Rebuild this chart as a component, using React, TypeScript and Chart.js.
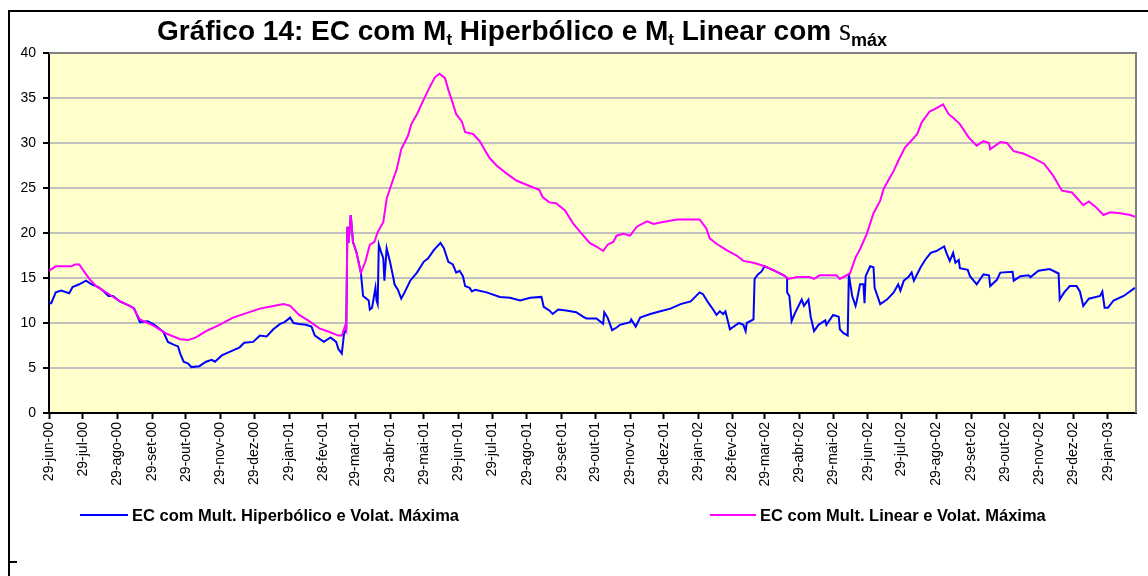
import React, { useEffect, useRef } from "react";
import { Chart, registerables } from "chart.js";

Chart.register(...registerables);

// ---- Data ----
const tickLabels = [
  "29-jun-00", "29-jul-00", "29-ago-00", "29-set-00", "29-out-00", "29-nov-00", "29-dez-00",
  "29-jan-01", "28-fev-01", "29-mar-01", "29-abr-01", "29-mai-01", "29-jun-01", "29-jul-01",
  "29-ago-01", "29-set-01", "29-out-01", "29-nov-01", "29-dez-01", "29-jan-02", "28-fev-02",
  "29-mar-02", "29-abr-02", "29-mai-02", "29-jun-02", "29-jul-02", "29-ago-02", "29-set-02",
  "29-out-02", "29-nov-02", "29-dez-02", "29-jan-03",
];

const seriesNames = [
  "EC com Mult. Hiperbólico e Volat. Máxima",
  "EC com Mult. Linear e Volat. Máxima",
];

// days since 29-jun-00
const hypDays = [
  0, 2, 6, 11, 18, 21, 27, 33, 38, 44, 48, 53, 57, 63, 72, 76, 81, 88, 94, 102, 106, 111, 115, 117,
  120, 124, 127, 134, 140, 145, 148, 154, 161, 170, 174, 182, 188, 194, 200, 206, 210, 215, 218,
  223, 229, 234, 237, 245, 251, 256, 258, 261, 263, 265, 266, 267, 269, 271, 274, 278, 279, 280,
  285, 286, 288, 291, 292, 293, 294, 296, 298, 299, 301, 304, 307, 308, 311, 314, 317, 322, 328,
  334, 338, 343, 349, 352, 356, 360, 363, 366, 369, 371, 375, 377, 380, 390, 402, 411, 420, 429,
  439, 441, 446, 449, 454, 461, 470, 476, 479, 488, 494, 495, 498, 502, 506, 509, 518, 519, 523,
  527, 536, 545, 554, 563, 572, 580, 583, 588, 592, 595, 598, 601, 603, 607, 615, 619, 621, 622,
  628, 629, 632, 635, 638, 647, 655, 658, 658, 660, 662, 665, 671, 673, 677, 679, 682, 686, 692,
  693, 699, 704, 705, 708, 712, 713, 716, 719, 720, 723, 726, 727, 728, 732, 735, 736, 741, 747,
  753, 757, 759, 762, 766, 769, 771, 777, 781, 786, 791, 798, 800, 803, 806, 808, 811, 812, 819,
  821, 827, 833, 838, 839, 845, 848, 859, 860, 866, 873, 875, 882, 892, 900, 901, 905, 910, 916,
  919, 922, 927, 937, 939, 941, 944, 949, 958, 968,
];
const hypValues = [
  12.2, 12.2, 13.4, 13.6, 13.3, 14.0, 14.3, 14.7, 14.3, 14.0, 13.6, 13.0, 13.0, 12.4, 11.9, 11.6,
  10.1, 10.2, 9.8, 9.0, 7.9, 7.6, 7.4, 6.6, 5.7, 5.5, 5.1, 5.2, 5.7, 5.9, 5.7, 6.4, 6.8, 7.3, 7.8,
  7.9, 8.6, 8.5, 9.3, 9.9, 10.1, 10.6, 10.0, 9.9, 9.8, 9.6, 8.6, 7.9, 8.4, 7.9, 7.1, 6.6, 8.8, 9.3,
  20.7, 18.9, 22.0, 19.0, 17.9, 15.6, 14.3, 13.0, 12.5, 11.5, 11.7, 13.9, 12.5, 12.1, 18.7, 17.9,
  17.2, 14.7, 18.3, 16.8, 15.0, 14.3, 13.7, 12.7, 13.4, 14.7, 15.6, 16.8, 17.2, 18.1, 18.9, 18.3,
  16.8, 16.5, 15.6, 15.8, 15.2, 14.1, 13.9, 13.5, 13.7, 13.4, 12.9, 12.8, 12.5, 12.8, 12.9, 11.8,
  11.4, 11.0, 11.5, 11.4, 11.2, 10.7, 10.5, 10.5, 9.9, 11.2, 10.6, 9.2, 9.5, 9.8, 10.1, 10.4, 9.6,
  10.6, 11.0, 11.3, 11.6, 12.1, 12.4, 13.4, 13.2, 12.2, 11.5, 10.9, 11.3, 11.0, 11.3, 9.3, 10.0,
  9.8, 9.1, 10.0, 10.4, 14.9, 15.4, 15.7, 16.3, 15.8, 15.3, 15.0, 13.4, 13.0, 10.2, 11.1, 12.6,
  11.9, 12.6, 10.7, 9.1, 9.8, 10.3, 9.8, 10.9, 10.7, 9.3, 8.9, 8.6, 15.4, 13.0, 11.9, 12.4, 14.3,
  14.3, 12.2, 15.2, 16.3, 16.2, 13.9, 12.1, 12.6, 13.4, 14.3, 13.6, 14.7, 15.1, 15.6, 14.7, 16.2,
  17.0, 17.8, 18.0, 18.5, 17.8, 16.9, 17.8, 16.7, 17.0, 16.1, 15.9, 15.2, 14.3, 15.4, 15.3, 14.1,
  14.8, 15.6, 15.7, 14.7, 15.2, 15.3, 15.1, 15.8, 16.0, 15.5, 12.6, 13.4, 14.1, 14.1, 13.5, 11.9,
  12.7, 13.0, 13.5, 11.7, 11.7, 12.5, 13.0, 13.9,
];

const linDays = [
  0, 6, 20, 23, 27, 32, 36, 42, 51, 62, 75, 81, 93, 105, 117, 124, 131, 140, 152, 164, 176, 188,
  200, 209, 215, 223, 232, 241, 250, 258, 261, 264, 265, 266, 267, 269, 271, 274, 278, 282, 286,
  290, 293, 298, 301, 305, 310, 314, 320, 323, 328, 332, 337, 341, 344, 348, 353, 356, 360, 363,
  368, 371, 378, 384, 390, 393, 399, 408, 417, 429, 437, 440, 446, 452, 460, 467, 475, 482, 488,
  494, 498, 503, 506, 512, 518, 524, 533, 539, 546, 560, 580, 586, 589, 595, 604, 613, 619, 628,
  638, 647, 655, 659, 667, 678, 682, 687, 702, 705, 714, 719, 723, 729, 735, 741, 744, 748, 753,
  757, 763, 769, 774, 778, 785, 790, 797, 802, 806, 812, 820, 827, 833, 838, 839, 848, 854, 860,
  869, 878, 887, 895, 903, 912, 922, 927, 933, 940, 946, 955, 964, 968,
];
const linValues = [
  15.8, 16.3, 16.3, 16.5, 16.5, 15.6, 14.9, 14.1, 13.4, 12.5, 11.7, 10.4, 9.7, 8.8, 8.2, 8.1, 8.4,
  9.1, 9.8, 10.6, 11.1, 11.6, 11.9, 12.1, 11.9, 10.9, 10.2, 9.4, 9.0, 8.6, 8.6, 9.7, 9.3, 20.7,
  18.9, 22.0, 19.0, 17.9, 15.6, 16.8, 18.7, 19.0, 20.1, 21.2, 23.8, 25.3, 27.1, 29.3, 30.8, 32.1,
  33.2, 34.3, 35.6, 36.6, 37.3, 37.7, 37.2, 35.9, 34.4, 33.2, 32.4, 31.2, 31.0, 30.2, 28.9, 28.3,
  27.5, 26.6, 25.8, 25.2, 24.8, 24.0, 23.4, 23.3, 22.5, 21.1, 19.9, 18.9, 18.5, 18.0, 18.7, 19.0,
  19.7, 19.9, 19.7, 20.7, 21.3, 21.0, 21.2, 21.5, 21.5, 20.5, 19.4, 18.8, 18.1, 17.5, 16.9, 16.7,
  16.3, 15.8, 15.3, 14.9, 15.1, 15.1, 14.9, 15.3, 15.3, 14.9, 15.5, 17.3, 18.2, 19.9, 22.2, 23.6,
  24.9, 25.8, 26.9, 28.0, 29.5, 30.3, 31.0, 32.3, 33.5, 33.8, 34.3, 33.2, 32.8, 32.1, 30.6, 29.7,
  30.2, 30.0, 29.3, 30.1, 30.0, 29.1, 28.8, 28.3, 27.7, 26.4, 24.7, 24.5, 23.1, 23.5, 22.9, 22.0,
  22.3, 22.2, 22.0, 21.8,
];

const lastDay = 969; // axis end (~22-fev-03)

const monthIdx: Record<string, number> = {
  jan: 0, fev: 1, mar: 2, abr: 3, mai: 4, jun: 5, jul: 6, ago: 7, set: 8, out: 9, nov: 10, dez: 11,
};
function labelToDay(l: string): number {
  const [d, m, y] = l.split("-");
  const t = Date.UTC(2000 + Number(y), monthIdx[m], Number(d));
  return Math.round((t - Date.UTC(2000, 5, 29)) / 86400000);
}
const tickDays = tickLabels.map(labelToDay);

const SANS = "'Liberation Sans', Arial, sans-serif";
const SERIF = "'Liberation Serif', 'Times New Roman', serif";
const BLUE = "#0000FF";
const MAGENTA = "#FF00FF";

const titleParts = [
  { t: "Gráfico 14: EC com M", font: `bold 28px ${SANS}`, dy: 0 },
  { t: "t", font: `bold 17px ${SANS}`, dy: 5 },
  { t: " Hiperbólico e M", font: `bold 28px ${SANS}`, dy: 0 },
  { t: "t", font: `bold 17px ${SANS}`, dy: 5 },
  { t: " Linear com ", font: `bold 28px ${SANS}`, dy: 0 },
  { t: "s", font: `31px ${SERIF}`, dy: 0 },
  { t: "máx", font: `bold 18px ${SANS}`, dy: 6 },
];

const decorPlugin = {
  id: "decor",
  beforeDraw(chart: any) {
    const { ctx, chartArea: a } = chart;
    ctx.save();
    ctx.fillStyle = "#FFFFFF";
    ctx.fillRect(0, 0, chart.width, chart.height);
    ctx.fillStyle = "#FFFFCC";
    ctx.fillRect(a.left, a.top, a.right - a.left, a.bottom - a.top);
    ctx.restore();
  },
  afterDraw(chart: any) {
    const { ctx, chartArea: a } = chart;
    ctx.save();
    // plot area top/right border
    ctx.strokeStyle = "#808080";
    ctx.lineWidth = 2;
    ctx.beginPath();
    ctx.moveTo(a.left, a.top);
    ctx.lineTo(a.right, a.top);
    ctx.lineTo(a.right, a.bottom);
    ctx.stroke();

    // outer frame (top and left)
    ctx.strokeStyle = "#000000";
    ctx.lineWidth = 2;
    ctx.beginPath();
    ctx.moveTo(9, chart.height);
    ctx.lineTo(9, 11);
    ctx.lineTo(chart.width, 11);
    ctx.stroke();
    // small dash bottom-left
    ctx.beginPath();
    ctx.moveTo(9, 562);
    ctx.lineTo(17, 562);
    ctx.stroke();

    // title
    ctx.fillStyle = "#000000";
    ctx.textBaseline = "alphabetic";
    ctx.textAlign = "left";
    let total = 0;
    for (const p of titleParts) {
      ctx.font = p.font;
      total += ctx.measureText(p.t).width;
    }
    let x = 522 - total / 2;
    const base = 40;
    for (const p of titleParts) {
      ctx.font = p.font;
      ctx.fillText(p.t, x, base + p.dy);
      x += ctx.measureText(p.t).width;
    }

    // legend
    const ly = 515;
    const items = [
      { x0: 80, x1: 128, color: BLUE, text: seriesNames[0] },
      { x0: 710, x1: 756, color: MAGENTA, text: seriesNames[1] },
    ];
    ctx.font = `bold 16.5px ${SANS}`;
    ctx.textBaseline = "middle";
    for (const it of items) {
      ctx.strokeStyle = it.color;
      ctx.lineWidth = 2;
      ctx.beginPath();
      ctx.moveTo(it.x0, ly);
      ctx.lineTo(it.x1, ly);
      ctx.stroke();
      ctx.fillStyle = "#000000";
      ctx.fillText(it.text, it.x1 + 4, ly + 1);
    }
    ctx.restore();
  },
};

export default function App() {
  const ref = useRef<HTMLCanvasElement | null>(null);

  useEffect(() => {
    document.body.style.margin = "0";
    const canvas = ref.current;
    if (!canvas) return;
    const hyp = hypDays.map((d, i) => ({ x: d, y: hypValues[i] }));
    const lin = linDays.map((d, i) => ({ x: d, y: linValues[i] }));

    const chart = new Chart(canvas, {
      type: "line",
      data: {
        datasets: [
          {
            label: seriesNames[0],
            data: hyp,
            borderColor: BLUE,
            borderWidth: 2,
            pointRadius: 0,
            tension: 0,
            order: 2,
          },
          {
            label: seriesNames[1],
            data: lin,
            borderColor: MAGENTA,
            borderWidth: 2,
            pointRadius: 0,
            tension: 0,
            order: 1,
          },
        ],
      },
      options: {
        animation: false,
        responsive: false,
        devicePixelRatio: 1,
        layout: { padding: { top: 53, right: 12, left: 0, bottom: 0 } },
        plugins: {
          legend: { display: false },
          title: { display: false },
          tooltip: { enabled: false },
        },
        scales: {
          x: {
            type: "linear",
            min: 0,
            max: lastDay,
            afterFit: (s: any) => {
              s.height = 163;
            },
            afterBuildTicks: (s: any) => {
              s.ticks = tickDays.map((v) => ({ value: v }));
            },
            ticks: {
              autoSkip: false,
              minRotation: 90,
              maxRotation: 90,
              padding: 3,
              color: "#000000",
              font: { family: SANS, size: 14 },
              callback: (_v: any, i: number) => tickLabels[i],
            },
            grid: {
              display: true,
              drawOnChartArea: false,
              drawTicks: true,
              tickLength: 6,
              tickColor: "#000000",
              tickWidth: 2,
            },
            border: { display: true, color: "#000000", width: 2 },
          },
          y: {
            type: "linear",
            min: 0,
            max: 40,
            afterFit: (s: any) => {
              s.width = 49;
            },
            ticks: {
              stepSize: 5,
              padding: 7,
              color: "#000000",
              font: { family: SANS, size: 14 },
            },
            grid: {
              color: "#C0C0C0",
              lineWidth: 2,
              tickLength: 6,
              tickColor: "#000000",
              tickWidth: 2,
            },
            border: { display: true, color: "#000000", width: 2 },
          },
        },
      },
      plugins: [decorPlugin],
    });
    return () => chart.destroy();
  }, []);

  return (
    <div style={{ width: 1148, height: 576 }}>
      <canvas ref={ref} width={1148} height={576} style={{ display: "block" }} />
    </div>
  );
}
